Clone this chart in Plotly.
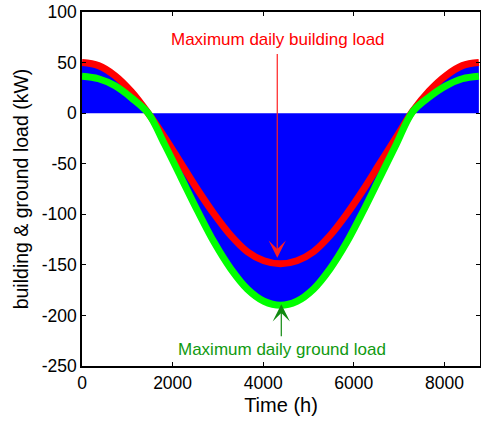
import plotly.graph_objects as go

# Time samples (h), read every ~15 days
time_h = [0, 365, 730, 1095, 1460, 1825, 2190, 2555, 2920, 3285, 3650, 4015, 4380,
          4745, 5110, 5475, 5840, 6205, 6570, 6935, 7300, 7665, 8030, 8395, 8760]

# Maximum daily building load (kW)
building_max = [50, 47, 37, 21, 0, -24, -50, -76, -100, -121, -137, -146, -149,
                -146, -137, -121, -100, -76, -50, -24, 2, 22, 37, 47, 50]

# Maximum daily ground load (kW)
ground_max = [36.5, 34, 27, 15, 0, -31, -64, -97, -128, -154, -174, -186, -190,
              -186, -174, -154, -128, -97, -64, -31, 1.5, 16, 27, 34, 36.5]

# Envelope of hourly building load (kW), read from blue area
hourly_env = [50, 47, 37, 21, 0, -31, -64, -97, -128, -154, -174, -186, -190,
              -186, -174, -154, -128, -97, -64, -31, 2, 22, 37, 47, 50]

x_ticks = [0, 2000, 4000, 6000, 8000]
y_ticks = [-250, -200, -150, -100, -50, 0, 50, 100]

FONT = "Liberation Sans, Arial, sans-serif"

fig = go.Figure()
fig.add_trace(go.Scatter(x=time_h, y=hourly_env, mode="lines", fill="tozeroy",
                         fillcolor="#0000ff", line=dict(width=0, color="#0000ff", shape="spline"),
                         hoverinfo="skip", showlegend=False))
fig.add_trace(go.Scatter(x=time_h, y=building_max, mode="lines",
                         line=dict(width=7, color="#ff0000", shape="spline"), showlegend=False))
fig.add_trace(go.Scatter(x=time_h, y=ground_max, mode="lines",
                         line=dict(width=7, color="#00ff00", shape="spline"), showlegend=False))

# Annotations
fig.add_annotation(x=4332, y=73, xref="x", yref="y", text="Maximum daily building load",
                   showarrow=False, font=dict(family=FONT, size=17, color="#ff0000"))
fig.add_annotation(x=4310, y=-143, xref="x", yref="y", ax=4310, ay=60, axref="x", ayref="y",
                   text="", showarrow=True, arrowhead=3, arrowsize=2.4, arrowwidth=1.2,
                   arrowcolor="#ff2020", standoff=0)
fig.add_annotation(x=4422, y=-234, xref="x", yref="y", text="Maximum daily ground load",
                   showarrow=False, font=dict(family=FONT, size=17, color="#109a10"))
fig.add_annotation(x=4399, y=-189, xref="x", yref="y", ax=4399, ay=-222, axref="x", ayref="y",
                   text="", showarrow=True, arrowhead=3, arrowsize=2.4, arrowwidth=1.2,
                   arrowcolor="#108a10", standoff=0)

axis_common = dict(showline=True, linecolor="black", linewidth=1.5, mirror="allticks",
                   ticks="inside", ticklen=4, tickwidth=1, tickcolor="black",
                   showgrid=False, zeroline=False, automargin=False,
                   ticklabeloverflow="allow",
                   tickfont=dict(family=FONT, size=17.5, color="black"))

fig.update_xaxes(range=[0, 8785], tickvals=x_ticks, ticktext=[str(v) for v in x_ticks],
                 title=dict(text="Time (h)", font=dict(family=FONT, size=20, color="black"),
                            standoff=6),
                 **axis_common)
fig.update_yaxes(range=[-250, 100], tickvals=y_ticks, ticktext=[str(v) for v in y_ticks],
                 title=dict(text="building &amp; ground load (kW)",
                            font=dict(family=FONT, size=19.5, color="black"), standoff=8),
                 **axis_common)

fig.update_layout(width=481, height=427, margin=dict(l=82, r=1, t=12, b=61),
                  plot_bgcolor="white", paper_bgcolor="white", showlegend=False)

# remove the browser's default 8px body margin so the figure sits at the page origin
fig.write_html("out.html", config={"displayModeBar": False},
               post_script="document.body.style.margin='0';")
